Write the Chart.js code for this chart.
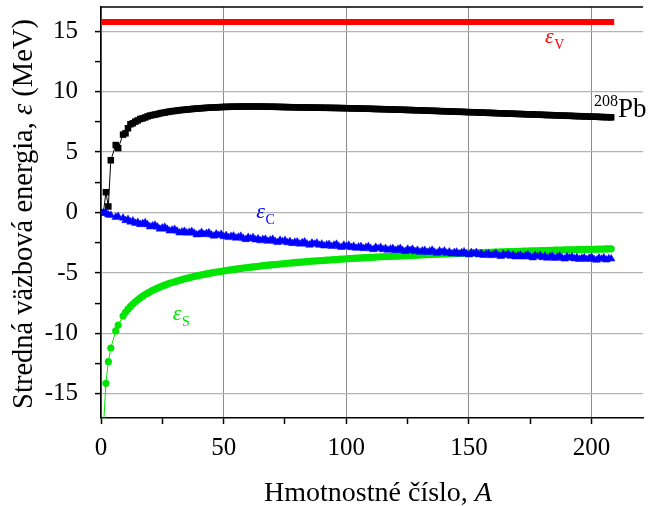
<!DOCTYPE html>
<html>
<head>
<meta charset="utf-8">
<script src="https://cdn.jsdelivr.net/npm/chart.js@4.4.0/dist/chart.umd.min.js"></script>
<style>
  html, body { margin: 0; padding: 0; background: #fff; }
</style>
</head>
<body>
<canvas id="energy-chart" width="648" height="506"></canvas>
<script>
// mass numbers A (no stable nuclei at A = 5 and 8)
const massNumbers = [
  1, 2, 3, 4, 6, 7, 9, 10, 11, 12, 13, 14, 15, 16, 17, 18, 19, 20,
  21, 22, 23, 24, 25, 26, 27, 28, 29, 30,
  31, 32, 33, 34, 35, 36, 37, 38, 39, 40,
  41, 42, 43, 44, 45, 46, 47, 48, 49, 50,
  51, 52, 53, 54, 55, 56, 57, 58, 59, 60,
  61, 62, 63, 64, 65, 66, 67, 68, 69, 70,
  71, 72, 73, 74, 75, 76, 77, 78, 79, 80,
  81, 82, 83, 84, 85, 86, 87, 88, 89, 90,
  91, 92, 93, 94, 95, 96, 97, 98, 99, 100,
  101, 102, 103, 104, 105, 106, 107, 108, 109, 110,
  111, 112, 113, 114, 115, 116, 117, 118, 119, 120,
  121, 122, 123, 124, 125, 126, 127, 128, 129, 130,
  131, 132, 133, 134, 135, 136, 137, 138, 139, 140,
  141, 142, 143, 144, 145, 146, 147, 148, 149, 150,
  151, 152, 153, 154, 155, 156, 157, 158, 159, 160,
  161, 162, 163, 164, 165, 166, 167, 168, 169, 170,
  171, 172, 173, 174, 175, 176, 177, 178, 179, 180,
  181, 182, 183, 184, 185, 186, 187, 188, 189, 190,
  191, 192, 193, 194, 195, 196, 197, 198, 199, 200,
  201, 202, 203, 204, 205, 206, 207, 208
];

// total binding energy per nucleon (208Pb curve)
const bindingPerNucleon = [
  0.00, 1.68, 0.50, 4.32, 5.58, 5.33, 6.44, 6.55, 6.97, 7.30, 7.38, 7.52, 7.62, 7.74, 7.79, 7.86, 7.95, 8.02,
  8.06, 8.10, 8.14, 8.20, 8.24, 8.27, 8.31, 8.35, 8.38, 8.40,
  8.43, 8.46, 8.48, 8.50, 8.52, 8.54, 8.56, 8.58, 8.60, 8.61,
  8.63, 8.64, 8.66, 8.67, 8.68, 8.69, 8.70, 8.71, 8.72, 8.73,
  8.74, 8.74, 8.75, 8.75, 8.76, 8.76, 8.76, 8.77, 8.77, 8.77,
  8.77, 8.77, 8.77, 8.77, 8.76, 8.76, 8.76, 8.75, 8.75, 8.75,
  8.74, 8.74, 8.73, 8.73, 8.72, 8.72, 8.71, 8.71, 8.70, 8.70,
  8.70, 8.69, 8.69, 8.69, 8.68, 8.68, 8.68, 8.67, 8.67, 8.67,
  8.66, 8.66, 8.66, 8.65, 8.65, 8.65, 8.64, 8.64, 8.63, 8.63,
  8.62, 8.62, 8.61, 8.61, 8.60, 8.60, 8.59, 8.59, 8.58, 8.58,
  8.57, 8.56, 8.56, 8.55, 8.55, 8.54, 8.53, 8.53, 8.52, 8.52,
  8.51, 8.50, 8.50, 8.49, 8.48, 8.48, 8.47, 8.46, 8.46, 8.45,
  8.44, 8.43, 8.43, 8.42, 8.41, 8.41, 8.40, 8.39, 8.38, 8.38,
  8.37, 8.36, 8.36, 8.35, 8.34, 8.33, 8.33, 8.32, 8.31, 8.30,
  8.30, 8.29, 8.28, 8.27, 8.27, 8.26, 8.25, 8.24, 8.24, 8.23,
  8.22, 8.21, 8.21, 8.20, 8.19, 8.18, 8.18, 8.17, 8.16, 8.15,
  8.15, 8.14, 8.13, 8.12, 8.12, 8.11, 8.10, 8.09, 8.09, 8.08,
  8.07, 8.06, 8.06, 8.05, 8.04, 8.03, 8.03, 8.02, 8.01, 8.00,
  8.00, 7.99, 7.98, 7.97, 7.97, 7.96, 7.95, 7.94, 7.94, 7.93,
  7.92, 7.92, 7.91, 7.90, 7.89, 7.89, 7.88, 7.87
];

// coulomb term eps_C
const coulombTerm = [
  0.00, 0.00, -0.20, -0.22, -0.39, -0.32, -0.46, -0.66, -0.58, -0.78, -0.70, -0.89, -0.81, -0.99, -0.91, -0.84, -1.01, -1.18,
  -1.10, -1.04, -1.20, -1.36, -1.28, -1.22, -1.37, -1.52, -1.45, -1.39,
  -1.53, -1.68, -1.61, -1.55, -1.69, -1.63, -1.57, -1.70, -1.84, -1.78,
  -1.64, -1.82, -1.73, -1.67, -1.85, -1.94, -1.77, -1.89, -1.80, -1.99,
  -1.90, -2.06, -1.97, -1.94, -2.11, -2.03, -1.96, -2.14, -2.23, -2.05,
  -2.17, -2.07, -2.26, -2.17, -2.33, -2.23, -2.20, -2.37, -2.28, -2.21,
  -2.39, -2.47, -2.29, -2.41, -2.30, -2.49, -2.40, -2.56, -2.46, -2.43,
  -2.60, -2.50, -2.43, -2.60, -2.69, -2.51, -2.62, -2.52, -2.70, -2.61,
  -2.76, -2.67, -2.63, -2.80, -2.70, -2.62, -2.80, -2.88, -2.70, -2.81,
  -2.70, -2.89, -2.79, -2.95, -2.85, -2.81, -2.98, -2.88, -2.81, -2.98,
  -3.06, -2.87, -2.99, -2.88, -3.06, -2.96, -3.11, -3.02, -2.98, -3.14,
  -3.04, -2.96, -3.14, -3.22, -3.03, -3.14, -3.03, -3.22, -3.12, -3.27,
  -3.17, -3.13, -3.29, -3.19, -3.11, -3.28, -3.36, -3.18, -3.29, -3.18,
  -3.36, -3.26, -3.41, -3.31, -3.27, -3.43, -3.33, -3.25, -3.42, -3.50,
  -3.31, -3.42, -3.31, -3.49, -3.39, -3.54, -3.44, -3.40, -3.56, -3.46,
  -3.38, -3.55, -3.63, -3.44, -3.54, -3.43, -3.61, -3.51, -3.66, -3.56,
  -3.52, -3.67, -3.57, -3.49, -3.66, -3.74, -3.54, -3.65, -3.54, -3.72,
  -3.62, -3.77, -3.66, -3.62, -3.78, -3.68, -3.60, -3.76, -3.84, -3.65,
  -3.76, -3.65, -3.82, -3.72, -3.87, -3.77, -3.73, -3.88, -3.78, -3.70,
  -3.87, -3.94, -3.75, -3.85, -3.74, -3.92, -3.81, -3.83
];

// surface term eps_S
const surfaceTerm = [
  -17.80, -14.13, -12.34, -11.21, -9.80, -9.31, -8.56, -8.26, -8.00, -7.77, -7.57, -7.39, -7.22, -7.06, -6.92, -6.79, -6.67, -6.56,
  -6.45, -6.35, -6.26, -6.17, -6.09, -6.01, -5.93, -5.86, -5.79, -5.73,
  -5.67, -5.61, -5.55, -5.49, -5.44, -5.39, -5.34, -5.29, -5.25, -5.20,
  -5.16, -5.12, -5.08, -5.04, -5.00, -4.97, -4.93, -4.90, -4.86, -4.83,
  -4.80, -4.77, -4.74, -4.71, -4.68, -4.65, -4.63, -4.60, -4.57, -4.55,
  -4.52, -4.50, -4.47, -4.45, -4.43, -4.40, -4.38, -4.36, -4.34, -4.32,
  -4.30, -4.28, -4.26, -4.24, -4.22, -4.20, -4.18, -4.17, -4.15, -4.13,
  -4.11, -4.10, -4.08, -4.06, -4.05, -4.03, -4.02, -4.00, -3.99, -3.97,
  -3.96, -3.94, -3.93, -3.91, -3.90, -3.89, -3.87, -3.86, -3.85, -3.83,
  -3.82, -3.81, -3.79, -3.78, -3.77, -3.76, -3.75, -3.74, -3.73, -3.72,
  -3.70, -3.69, -3.68, -3.67, -3.66, -3.65, -3.64, -3.63, -3.62, -3.61,
  -3.60, -3.59, -3.58, -3.57, -3.56, -3.55, -3.54, -3.53, -3.52, -3.51,
  -3.51, -3.50, -3.49, -3.48, -3.47, -3.46, -3.45, -3.45, -3.44, -3.43,
  -3.42, -3.41, -3.40, -3.40, -3.39, -3.38, -3.37, -3.37, -3.36, -3.35,
  -3.34, -3.34, -3.33, -3.32, -3.31, -3.31, -3.30, -3.29, -3.29, -3.28,
  -3.27, -3.27, -3.26, -3.25, -3.25, -3.24, -3.23, -3.23, -3.22, -3.21,
  -3.21, -3.20, -3.20, -3.19, -3.18, -3.18, -3.17, -3.17, -3.16, -3.15,
  -3.15, -3.14, -3.14, -3.13, -3.12, -3.12, -3.11, -3.11, -3.10, -3.10,
  -3.09, -3.09, -3.08, -3.07, -3.07, -3.06, -3.06, -3.05, -3.05, -3.04,
  -3.04, -3.03, -3.03, -3.02, -3.02, -3.01, -3.01, -3.00
];

// volume term eps_V (flat)
const volumeA = [1, 208];
const volumeTerm = [15.75, 15.75];

const SERIF = '"Liberation Serif", "Times New Roman", serif';
Chart.defaults.font.family = SERIF;

function toPoints(xs, ys) {
    return xs.map((x, i) => ({ x: x, y: ys[i] }));
}

// curve labels, anchored in data units
const curveLabels = [
    { x: 181, y: 14.0, sub: 'V', color: '#ff0000' },
    { x: 63.3, y: -0.45, sub: 'C', color: '#0000ff' },
    { x: 29.3, y: -8.9, sub: 'S', color: '#00e600' }
];

function drawRuns(ctx, runs, x, y, centered) {
    let total = 0;
    runs.forEach(r => { ctx.font = r.font; total += ctx.measureText(r.text).width; });
    let cx = centered ? x - total / 2 : x;
    runs.forEach(r => {
        ctx.font = r.font;
        ctx.fillText(r.text, cx, y);
        cx += ctx.measureText(r.text).width;
    });
}

const decorations = {
    id: 'decorations',
    afterDraw(chart) {
        const ctx = chart.ctx;
        const area = chart.chartArea;
        const xs = chart.scales.x;
        const ys = chart.scales.y;
        ctx.save();

        // top frame
        ctx.strokeStyle = '#000';
        ctx.lineWidth = 1.5;
        ctx.beginPath();
        ctx.moveTo(area.left, area.top);
        ctx.lineTo(area.right, area.top);
        ctx.stroke();

        ctx.textAlign = 'left';
        ctx.textBaseline = 'alphabetic';

        // eps labels
        curveLabels.forEach(l => {
            const px = xs.getPixelForValue(l.x);
            const py = ys.getPixelForValue(l.y);
            ctx.fillStyle = l.color;
            ctx.font = 'italic 22px ' + SERIF;
            ctx.fillText('ε', px, py);
            const w = ctx.measureText('ε').width;
            ctx.font = '14px ' + SERIF;
            ctx.fillText(l.sub, px + w + 0.5, py + 6);
        });

        // 208Pb
        const pbX = xs.getPixelForValue(201);
        const pbY = ys.getPixelForValue(7.87);
        ctx.fillStyle = '#000';
        ctx.font = '16px ' + SERIF;
        ctx.fillText('208', pbX, pbY - 11);
        const w208 = ctx.measureText('208').width;
        ctx.font = '27px ' + SERIF;
        ctx.fillText('Pb', pbX + w208, pbY);

        // axis titles
        ctx.fillStyle = '#000';
        drawRuns(ctx, [
            { text: 'Hmotnostné číslo, ', font: '28px ' + SERIF },
            { text: 'A', font: 'italic 28px ' + SERIF }
        ], 378, 501, true);

        ctx.translate(32, 214);
        ctx.rotate(-Math.PI / 2);
        drawRuns(ctx, [
            { text: 'Stredná väzbová energia, ', font: '28.5px ' + SERIF },
            { text: 'ε', font: 'italic 28.5px ' + SERIF },
            { text: ' (MeV)', font: '28.5px ' + SERIF }
        ], 0, 0, true);

        ctx.restore();
    }
};

new Chart(document.getElementById('energy-chart'), {
    type: 'line',
    data: {
        datasets: [
            {
                label: 'eps_C',
                data: toPoints(massNumbers, coulombTerm),
                borderColor: '#0000ff',
                backgroundColor: '#0000ff',
                borderWidth: 1,
                pointStyle: 'triangle',
                pointRadius: 4.4,
                pointBorderWidth: 0.5
            },
            {
                label: 'eps_S',
                data: toPoints(massNumbers, surfaceTerm),
                borderColor: '#00e600',
                backgroundColor: '#00e600',
                borderWidth: 1,
                pointStyle: 'circle',
                pointRadius: 3.6,
                pointBorderWidth: 0,
                clip: 0
            },
            {
                label: 'B/A',
                data: toPoints(massNumbers, bindingPerNucleon),
                borderColor: '#000',
                backgroundColor: '#000',
                borderWidth: 1,
                pointStyle: 'rect',
                pointRadius: 4.6,
                pointBorderWidth: 0
            },
            {
                label: 'eps_V',
                data: toPoints(volumeA, volumeTerm),
                borderColor: '#ff0000',
                borderWidth: 6,
                borderCapStyle: 'square',
                pointRadius: 0
            }
        ]
    },
    options: {
        responsive: false,
        animation: false,
        layout: { padding: { top: 7, right: 0, left: 0, bottom: 0 } },
        plugins: {
            legend: { display: false },
            tooltip: { enabled: false }
        },
        elements: { line: { tension: 0 } },
        scales: {
            x: {
                type: 'linear',
                min: 0,
                max: 221,
                afterFit: scale => {
                    scale.height = 88;
                    scale.paddingLeft = 0;
                    scale.paddingRight = 0;
                },
                border: { color: '#000', width: 1.5 },
                grid: {
                    color: c => (c.tick && c.tick.value % 50 === 0) ? '#8c8c8c' : 'rgba(0,0,0,0)',
                    lineWidth: 1,
                    tickColor: '#000',
                    tickLength: 6,
                    tickWidth: 1.5
                },
                ticks: {
                    stepSize: 25,
                    includeBounds: false,
                    autoSkip: false,
                    maxRotation: 0,
                    padding: 9,
                    color: '#000',
                    font: { family: SERIF, size: 25 },
                    callback: v => (v % 50 === 0 ? String(v) : '')
                }
            },
            y: {
                min: -17,
                max: 17,
                afterFit: scale => {
                    scale.width = 101;
                    scale.paddingTop = 0;
                    scale.paddingBottom = 0;
                },
                border: { color: '#000', width: 1.5 },
                grid: {
                    color: c => (c.tick && c.tick.value % 5 === 0) ? '#b4b4b4' : 'rgba(0,0,0,0)',
                    lineWidth: 1.2,
                    tickColor: '#000',
                    tickLength: 6,
                    tickWidth: 1.5
                },
                ticks: {
                    stepSize: 2.5,
                    includeBounds: false,
                    autoSkip: false,
                    padding: 17,
                    color: '#000',
                    font: { family: SERIF, size: 25 },
                    callback: v => (v % 5 === 0 ? String(v) : '')
                }
            }
        }
    },
    plugins: [decorations]
});
</script>
</body>
</html>
